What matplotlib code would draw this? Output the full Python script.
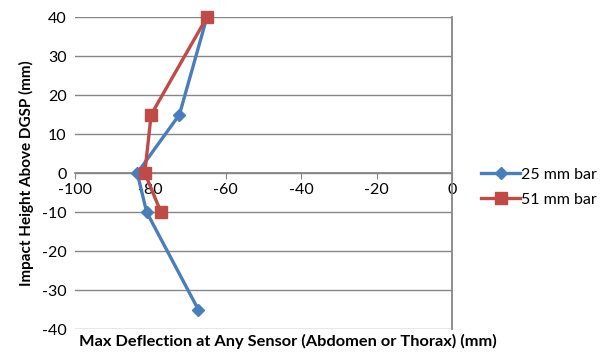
import matplotlib
matplotlib.use("Agg")
import matplotlib.pyplot as plt

plt.rcParams['font.family'] = ['Lato', 'DejaVu Sans']
plt.rcParams['axes.unicode_minus'] = False

# max deflection (mm) vs impact height (mm)
height_25 = [40, 15, 0, -10, -35]
defl_25 = [-65, -72.3, -83.5, -81, -67.3]
height_51 = [40, 15, 0, -10]
defl_51 = [-65, -79.8, -81.5, -77.2]

blue = "#4A7EBB"
red = "#BE4B48"
grid_col = "#868686"

fig = plt.figure(figsize=(6.06, 3.56), dpi=100)
ax = fig.add_axes([0.1238, 0.0758, 0.622, 0.876])

ax.set_xlim(-100, 0)
ax.set_ylim(-40, 40)
ax.set_xticks(range(-100, 1, 20))
ax.set_yticks(range(-40, 41, 10))

ax.yaxis.grid(True, color=grid_col, linewidth=1)
ax.set_axisbelow(True)

for s in ("top", "left"):
    ax.spines[s].set_visible(False)
ax.spines["bottom"].set_position(("data", 0))
ax.spines["bottom"].set_color(grid_col)
ax.spines["right"].set_color(grid_col)
ax.spines["right"].set_linewidth(1.3)
ax.spines["bottom"].set_linewidth(1.3)

ax.tick_params(axis="x", direction="out", length=4, color=grid_col, labelsize=11.5, pad=3)
ax.tick_params(axis="y", length=0, labelsize=11.5, pad=6)

ax.plot(defl_25, height_25, color=blue, linewidth=2.4, marker="D", markersize=6.5,
        label="25 mm bar", zorder=3, clip_on=False)
ax.plot(defl_51, height_51, color=red, linewidth=2.4, marker="s", markersize=8,
        label="51 mm bar", zorder=4, clip_on=False)

ax.set_ylabel("Impact Height Above DGSP (mm)", fontsize=11, fontweight="bold", labelpad=6)
fig.text(0.475, 0.04, "Max Deflection at Any Sensor (Abdomen or Thorax) (mm)",
         fontsize=11.8, fontweight="bold", ha="center", va="center")

ax.legend(loc="center left", bbox_to_anchor=(1.04, 0.455), frameon=False,
          fontsize=11.5, handlelength=2.4, labelspacing=0.7, handletextpad=0.1)

fig.savefig("out.png", dpi=100)
